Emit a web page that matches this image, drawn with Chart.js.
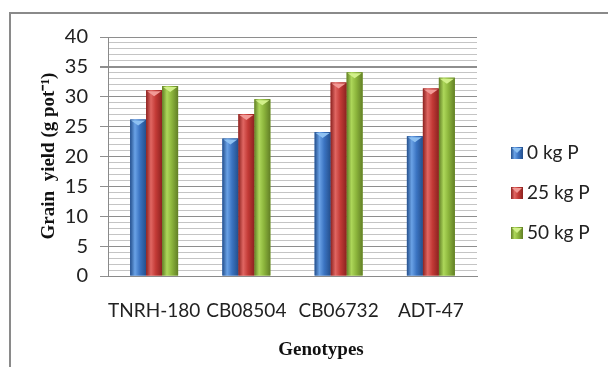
<!DOCTYPE html>
<html>
<head>
<meta charset="utf-8">
<script src="https://cdn.jsdelivr.net/npm/chart.js@4/dist/chart.umd.min.js"></script>
<style>
  html, body { margin: 0; padding: 0; background: #fff; }
  #wrap { position: relative; width: 608px; height: 367px; }
  #frame { position: absolute; left: 9px; top: 12px; right: -4px; bottom: -4px;
           border-top: 2px solid #8a8a8a; border-left: 2px solid #8a8a8a; pointer-events: none; }
</style>
</head>
<body>
<div id="wrap">
  <canvas id="myChart"></canvas>
  <div id="frame"></div>
</div>
<script>
/* chart data */
const genotypes = ['TNRH-180', 'CB08504', 'CB06732', 'ADT-47'];
const seriesNames = ['0 kg P', '25 kg P', '50 kg P'];
const p0 = [26.2, 23.0, 24.1, 23.4];
const p25 = [31.1, 27.1, 32.4, 31.4];
const p50 = [31.8, 29.6, 34.1, 33.2];
const yTicks = [0, 5, 10, 15, 20, 25, 30, 35, 40];

const colors = [
  { base: '#3b74c2', light: '#6aa2e6', dark: '#244f8c', cap: '#8ec1f2' },
  { base: '#c33a36', light: '#e06662', dark: '#8c2220', cap: '#f29a96' },
  { base: '#8cb53c', light: '#add75a', dark: '#627f26', cap: '#d2f08a' }
];

const font = 'Lato, "Open Sans", sans-serif';

function shade(c, l, r, col) {
  const g = c.createLinearGradient(l, 0, r, 0);
  g.addColorStop(0, col.dark);
  g.addColorStop(0.3, col.light);
  g.addColorStop(0.6, col.base);
  g.addColorStop(1, col.dark);
  return g;
}

/* cylinder-like shading painted over each bar the library placed */
const shadePlugin = {
  id: 'shade',
  afterDatasetsDraw(chart) {
    const c = chart.ctx;
    chart.data.datasets.forEach((ds, i) => {
      const meta = chart.getDatasetMeta(i);
      meta.data.forEach(bar => {
        const p = bar.getProps(['x', 'y', 'base', 'width'], true);
        const l = p.x - p.width / 2, r = p.x + p.width / 2;
        c.save();
        c.fillStyle = shade(c, l, r, colors[i]);
        c.fillRect(l, p.y, p.width, p.base - p.y);
        c.fillStyle = colors[i].cap;
        c.beginPath();
        c.moveTo(l + 1, p.y + 1);
        c.lineTo(r - 1, p.y + 1);
        c.lineTo(p.x, p.y + 6);
        c.closePath();
        c.fill();
        c.restore();
      });
    });
  }
};

/* legend and axis titles */
const textPlugin = {
  id: 'texts',
  afterDraw(chart) {
    const c = chart.ctx;
    c.save();
    chart.data.datasets.forEach((ds, i) => {
      const y = 153 + i * 40;
      c.fillStyle = shade(c, 511, 523, colors[i]);
      c.fillRect(511, y - 6, 12, 12);
      c.fillStyle = colors[i].cap;
      c.beginPath();
      c.moveTo(512, y - 5); c.lineTo(522, y - 5); c.lineTo(517, y);
      c.closePath(); c.fill();
      c.fillStyle = '#222';
      c.font = '19px ' + font;
      c.textAlign = 'left';
      c.textBaseline = 'middle';
      c.fillText(ds.label, 527, y);
    });
    c.font = 'bold 19px "Liberation Serif", "Times New Roman", serif';
    c.fillStyle = '#111';
    c.textAlign = 'center';
    c.textBaseline = 'middle';
    c.fillText('Genotypes', 321, 350);
    c.translate(49, 156);
    c.rotate(-Math.PI / 2);
    c.fillText('Grain  yield (g pot\u207B\u00B9)', 0, 0);
    c.restore();
  }
};

function initChart() {
  const ctx = document.getElementById('myChart');
  new Chart(ctx, {
    type: 'bar',
    data: {
      labels: genotypes,
      datasets: [p0, p25, p50].map((d, i) => ({
        label: seriesNames[i],
        data: d,
        backgroundColor: colors[i].base,
        borderWidth: 0,
        barPercentage: 1,
        categoryPercentage: 0.52
      }))
    },
    options: {
      responsive: true,
      maintainAspectRatio: false,
      animation: false,
      layout: { padding: { top: 37, right: 131, left: 0, bottom: 0 } },
      plugins: { legend: { display: false }, tooltip: { enabled: false } },
      scales: {
        x: {
          afterFit: s => { s.height = 91; },
          grid: { display: false },
          border: { color: '#8a8a8a', width: 1 },
          ticks: {
            color: '#222', font: { family: font, size: 19 }, padding: 15,
            autoSkip: false, maxRotation: 0, minRotation: 0
          }
        },
        y: {
          min: 0,
          max: 40,
          afterFit: s => { s.width = 108; },
          afterBuildTicks: s => {
            const t = [];
            for (let v = 0; v <= 40; v++) t.push({ value: v });
            s.ticks = t;
          },
          border: { color: '#8a8a8a', width: 1 },
          grid: {
            color: c => (yTicks.includes(c.tick.value) ? '#8e8e8e' : '#c4c4c4'),
            lineWidth: c => (c.tick.value === 35 ? 2 : 1),
            tickColor: c => (yTicks.includes(c.tick.value) ? '#8e8e8e' : 'rgba(0,0,0,0)'),
            tickLength: 8
          },
          ticks: {
            autoSkip: false,
            color: '#222',
            font: { family: font, size: 20 },
            padding: 12,
            callback: v => (yTicks.includes(v) ? String(v) : '')
          }
        }
      }
    },
    plugins: [shadePlugin, textPlugin]
  });
}

initChart();
</script>
</body>
</html>
